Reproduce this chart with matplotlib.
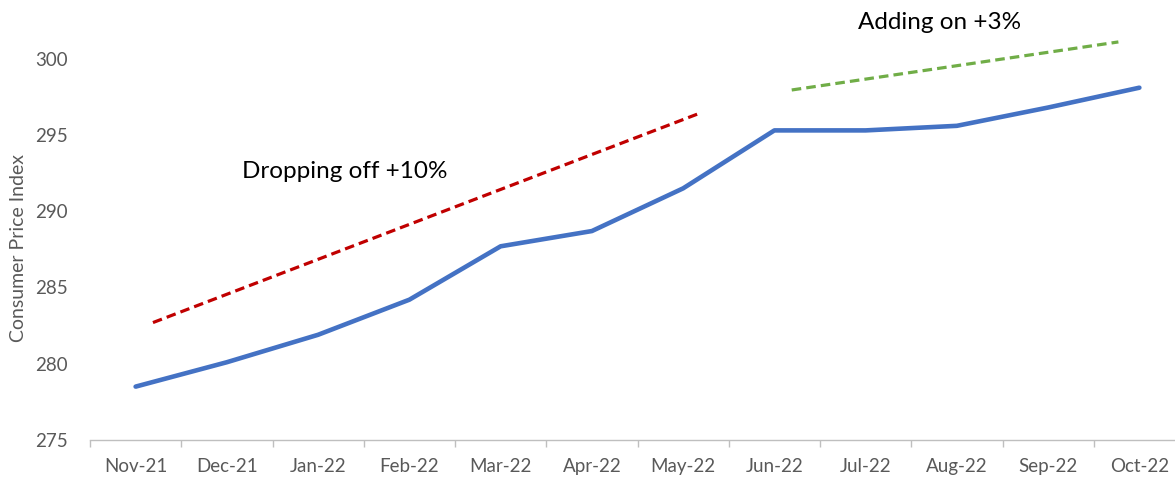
import matplotlib
matplotlib.use("Agg")
import matplotlib.pyplot as plt
import numpy as np

months = ["Nov-21", "Dec-21", "Jan-22", "Feb-22", "Mar-22", "Apr-22",
          "May-22", "Jun-22", "Jul-22", "Aug-22", "Sep-22", "Oct-22"]
cpi = [278.5, 280.1, 281.9, 284.2, 287.7, 288.7,
       291.5, 295.3, 295.3, 295.6, 296.8, 298.1]

drop_x = [0.19, 6.17]
drop_y = [282.7, 296.4]
add_x = [7.19, 10.77]
add_y = [297.95, 301.1]

yticks = [275, 280, 285, 290, 295, 300]

plt.rcParams['font.family'] = ['Lato', 'DejaVu Sans']

fig = plt.figure(figsize=(11.75, 4.78), dpi=100)
ax = fig.add_axes([90/1175, 38/478, 1095/1175, 440/478])

x = np.arange(len(months))
ax.plot(x, cpi, color="#4472C4", lw=3.3, solid_capstyle="round", solid_joinstyle="round")
ax.plot(drop_x, drop_y, color="#C00000", lw=2.3, dashes=(3, 1.6))
ax.plot(add_x, add_y, color="#70AD47", lw=2.3, dashes=(3, 1.6))

ax.text(2.29, 292.6, "Dropping off +10%", fontsize=17.5, color="black", ha="center", va="center")
ax.text(8.81, 302.4, "Adding on +3%", fontsize=17.5, color="black", ha="center", va="center")

ax.set_xlim(-0.5, 11.5)
ax.set_ylim(275, 303.85)
ax.set_yticks(yticks)
ax.set_xticks(x)
ax.set_xticklabels(months)
ax.set_xticks(np.arange(-0.5, 12, 1), minor=True)
ax.tick_params(axis="x", which="major", length=0, pad=13, labelsize=13.5, labelcolor="#595959")
ax.tick_params(axis="x", which="minor", length=5, color="#BFBFBF", width=1)
ax.tick_params(axis="y", length=0, pad=16, labelsize=13.5, labelcolor="#595959")

for s in ["top", "right", "left"]:
    ax.spines[s].set_visible(False)
ax.spines["bottom"].set_color("#BFBFBF")
ax.spines["bottom"].set_linewidth(1)

ax.set_ylabel("Consumer Price Index", fontsize=14, color="#595959")
ax.yaxis.set_label_coords(-63/1095, (440-248)/440)

fig.savefig("out.png", dpi=100)
